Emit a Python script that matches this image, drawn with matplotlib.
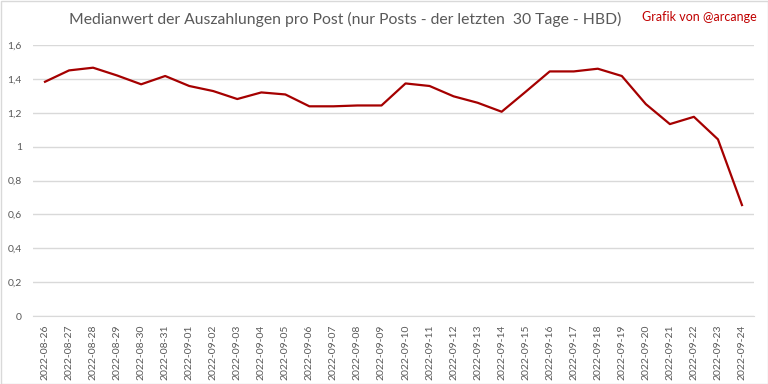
import matplotlib
matplotlib.use("Agg")
import matplotlib.pyplot as plt
from matplotlib.patches import Rectangle

dates = ["2022-08-26", "2022-08-27", "2022-08-28", "2022-08-29", "2022-08-30",
         "2022-08-31", "2022-09-01", "2022-09-02", "2022-09-03", "2022-09-04",
         "2022-09-05", "2022-09-06", "2022-09-07", "2022-09-08", "2022-09-09",
         "2022-09-10", "2022-09-11", "2022-09-12", "2022-09-13", "2022-09-14",
         "2022-09-15", "2022-09-16", "2022-09-17", "2022-09-18", "2022-09-19",
         "2022-09-20", "2022-09-21", "2022-09-22", "2022-09-23", "2022-09-24"]
median_hbd = [1.383, 1.450, 1.466, 1.420, 1.368, 1.417, 1.358, 1.328, 1.281, 1.320,
              1.308, 1.238, 1.238, 1.243, 1.243, 1.373, 1.358, 1.297, 1.259, 1.206,
              1.324, 1.444, 1.444, 1.460, 1.417, 1.251, 1.133, 1.176, 1.043, 0.655]
yticks = [0, 0.2, 0.4, 0.6, 0.8, 1.0, 1.2, 1.4, 1.6]
ytick_labels = ["0", "0,2", "0,4", "0,6", "0,8", "1", "1,2", "1,4", "1,6"]

plt.rcParams['font.family'] = ['Lato', 'DejaVu Sans']

fig = plt.figure(figsize=(7.68, 3.84), dpi=100)
ax = fig.add_axes([33/768, 1-316/384, 721/768, 271/384])

x = range(len(dates))
ax.plot(x, median_hbd, color="#A50000", lw=1.6, solid_joinstyle="round")

ax.set_xlim(-0.5, len(dates)-0.5)
ax.set_ylim(0, 1.6)
ax.set_yticks(yticks)
ax.set_yticklabels(ytick_labels, color="#595959", fontsize=7.5)
ax.set_xticks(list(x))
ax.set_xticklabels(dates, rotation=90, color="#595959", fontsize=7.5)
ax.tick_params(length=0, pad=8)
ax.tick_params(axis="x", pad=6)
ax.grid(axis="y", color="#D9D9D9", lw=1)
ax.set_axisbelow(True)
for s in ["top", "right", "left"]:
    ax.spines[s].set_visible(False)
ax.spines["bottom"].set_color("#D9D9D9")

fig.text(0.449, 0.948, "Medianwert der Auszahlungen pro Post (nur Posts - der letzten  30 Tage - HBD)",
         ha="center", va="center", fontsize=11.3, color="#595959")
fig.text(0.986, 0.955, "Grafik von @arcange", ha="right", va="center", fontsize=9, color="#C00000")

fig.patches.append(Rectangle((0.5/768, 0.5/384), 1-1/768, 1-1/384, transform=fig.transFigure,
                             fill=False, edgecolor="#D9D9D9", lw=1))

fig.savefig("out.png", dpi=100)
